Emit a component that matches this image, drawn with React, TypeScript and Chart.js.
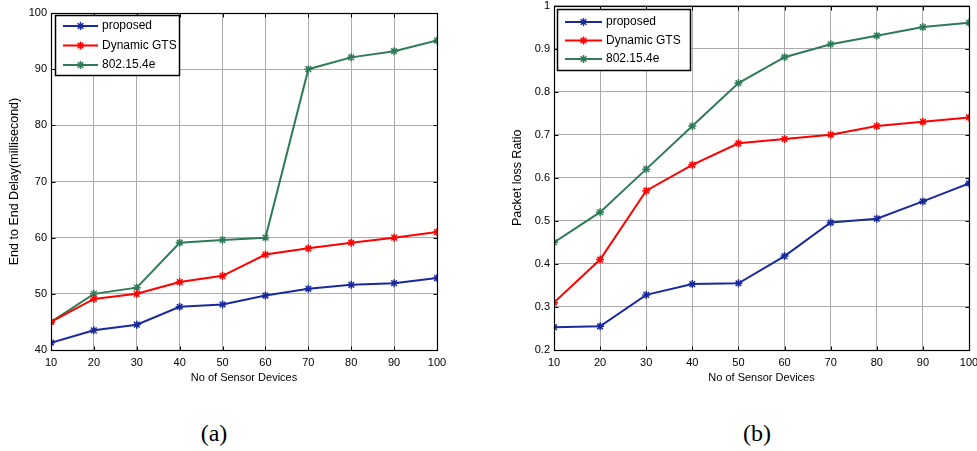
import React, { useEffect, useRef } from 'react';
import { Chart, registerables } from 'chart.js';

Chart.register(...registerables);

// ---------- data ----------
const devices = [10, 20, 30, 40, 50, 60, 70, 80, 90, 100];
const seriesLabels = ['proposed', 'Dynamic GTS', '802.15.4e'];

const delayProposed = [41.3, 43.5, 44.5, 47.7, 48.1, 49.7, 50.9, 51.6, 51.9, 52.8];
const delayDynamicGTS = [45.0, 49.1, 50.0, 52.1, 53.2, 57.0, 58.1, 59.1, 60.0, 61.0];
const delay802154e = [45.0, 50.0, 51.1, 59.1, 59.6, 60.0, 90.0, 92.1, 93.2, 95.1];

const lossProposed = [0.253, 0.255, 0.328, 0.353, 0.355, 0.418, 0.496, 0.505, 0.545, 0.587];
const lossDynamicGTS = [0.31, 0.41, 0.57, 0.63, 0.68, 0.69, 0.70, 0.72, 0.73, 0.74];
const loss802154e = [0.45, 0.52, 0.62, 0.72, 0.82, 0.88, 0.91, 0.93, 0.95, 0.96];

const xTitle = 'No of Sensor Devices';
const delayTitle = 'End to End Delay(millisecond)';
const lossTitle = 'Packet loss Ratio';

// ---------- styles ----------
const COLORS = ['#1a2a9c', '#ff0000', '#2f7a57'];
const FONT = "'Liberation Sans', Arial, Helvetica, sans-serif";

function drawStar(ctx: CanvasRenderingContext2D, x: number, y: number, r: number) {
  const d = r * 0.707;
  ctx.beginPath();
  ctx.moveTo(x - r, y); ctx.lineTo(x + r, y);
  ctx.moveTo(x, y - r); ctx.lineTo(x, y + r);
  ctx.moveTo(x - d, y - d); ctx.lineTo(x + d, y + d);
  ctx.moveTo(x - d, y + d); ctx.lineTo(x + d, y - d);
  ctx.stroke();
}

const matlabFrame = {
  id: 'matlabFrame',
  afterDraw(chart: any, _args: any, opts: any) {
    const { ctx, chartArea: a } = chart;
    const xs = chart.scales.x;
    const ys = chart.scales.y;
    ctx.save();
    ctx.strokeStyle = '#000';
    ctx.lineWidth = 1;
    const L = 4;
    const left = Math.round(a.left) + 0.5;
    const right = Math.round(a.right) + 0.5;
    const top = Math.round(a.top) + 0.5;
    const bottom = Math.round(a.bottom) + 0.5;
    ctx.beginPath();
    xs.ticks.forEach((t: any) => {
      const p = Math.round(xs.getPixelForValue(t.value)) + 0.5;
      ctx.moveTo(p, bottom); ctx.lineTo(p, bottom - L);
      ctx.moveTo(p, top); ctx.lineTo(p, top + L);
    });
    ys.ticks.forEach((t: any) => {
      const p = Math.round(ys.getPixelForValue(t.value)) + 0.5;
      ctx.moveTo(left, p); ctx.lineTo(left + L, p);
      ctx.moveTo(right, p); ctx.lineTo(right - L, p);
    });
    ctx.stroke();
    ctx.lineWidth = 1.2;
    ctx.strokeRect(left, top, right - left, bottom - top);

    // legend
    const lg = opts.legendBox;
    if (lg) {
      ctx.fillStyle = '#fff';
      ctx.fillRect(lg.x, lg.y, lg.w, lg.h);
      ctx.lineWidth = 1.5;
      ctx.strokeStyle = '#000';
      ctx.strokeRect(lg.x + 0.5, lg.y + 0.5, lg.w, lg.h);
      ctx.font = `12px ${FONT}`;
      ctx.textBaseline = 'middle';
      ctx.textAlign = 'left';
      chart.data.datasets.forEach((ds: any, i: number) => {
        const y = lg.y + lg.row0 + i * lg.rowGap;
        ctx.strokeStyle = ds.borderColor;
        ctx.lineWidth = 2;
        ctx.beginPath();
        ctx.moveTo(lg.x + lg.l1, y); ctx.lineTo(lg.x + lg.l2, y);
        ctx.stroke();
        ctx.lineWidth = 1.5;
        drawStar(ctx, lg.x + (lg.l1 + lg.l2) / 2, y, 4);
        ctx.fillStyle = '#000';
        ctx.fillText(ds.label, lg.x + lg.tx, y);
      });
    }
    ctx.restore();
  },
};

function makeDatasets(series: number[][]) {
  return series.map((vals, i) => ({
    label: seriesLabels[i],
    data: devices.map((d, j) => ({ x: d, y: vals[j] })),
    borderColor: COLORS[i],
    backgroundColor: COLORS[i],
    pointBorderColor: COLORS[i],
    pointBackgroundColor: COLORS[i],
    borderWidth: 2,
    pointStyle: 'star',
    pointRadius: 4,
    pointBorderWidth: 1.5,
    tension: 0,
    fill: false,
  }));
}

function makeConfig(p: any) {
  const tickFont = { family: FONT, size: 11 };
  const yTitleFont = { family: FONT, size: 12.5 };
  return {
    type: 'line',
    data: { datasets: makeDatasets(p.series) },
    plugins: [matlabFrame],
    options: {
      animation: false,
      responsive: false,
      maintainAspectRatio: false,
      events: [],
      layout: { padding: p.padding },
      plugins: {
        legend: { display: false },
        tooltip: { enabled: false },
        matlabFrame: { legendBox: p.legendBox },
      },
      scales: {
        x: {
          type: 'linear',
          position: 'bottom',
          min: 10,
          max: 100,
          afterFit: (s: any) => {
            s.height = 50;
            s.paddingLeft = 0; s.paddingRight = 0;
          },
          ticks: {
            stepSize: 10,
            font: tickFont,
            color: '#000',
            padding: 6,
            maxRotation: 0,
            autoSkip: false,
          },
          grid: { color: '#ababab', lineWidth: 1, drawTicks: false },
          border: { display: false },
          title: {
            display: true,
            text: xTitle,
            font: tickFont,
            color: '#000',
            padding: { top: 0, bottom: 15 },
          },
        },
        y: {
          type: 'linear',
          position: 'left',
          min: p.yMin,
          max: p.yMax,
          afterFit: (s: any) => {
            s.width = p.yWidth;
            s.paddingTop = 0; s.paddingBottom = 0;
          },
          ticks: {
            stepSize: p.yStep,
            font: tickFont,
            color: '#000',
            padding: 4,
            callback: (v: number) => String(Math.round(v * 10) / 10),
          },
          grid: { color: '#ababab', lineWidth: 1, drawTicks: false },
          border: { display: false },
          title: {
            display: true,
            text: p.yTitle,
            font: yTitleFont,
            color: '#000',
            padding: { top: p.yTitlePad, bottom: 0 },
          },
        },
      },
    },
  };
}

function LineChart(props: { config: any; width: number; height: number; style: any }) {
  const ref = useRef<HTMLCanvasElement | null>(null);
  useEffect(() => {
    if (!ref.current) return;
    const chart = new Chart(ref.current, props.config);
    return () => chart.destroy();
  }, []);
  return <canvas ref={ref} width={props.width} height={props.height} style={props.style} />;
}

const configA = makeConfig({
  series: [delayProposed, delayDynamicGTS, delay802154e],
  yMin: 40, yMax: 100, yStep: 10,
  yTitle: delayTitle,
  yWidth: 51,
  yTitlePad: 7,
  padding: { left: 0, right: 33, top: 13, bottom: 0 },
  legendBox: { x: 55, y: 15, w: 124, h: 60, l1: 8, l2: 43, tx: 47, row0: 11, rowGap: 19.5 },
});

const configB = makeConfig({
  series: [lossProposed, lossDynamicGTS, loss802154e],
  yMin: 0.2, yMax: 1, yStep: 0.1,
  yTitle: lossTitle,
  yWidth: 64,
  yTitlePad: 20,
  padding: { left: 0, right: 8, top: 5, bottom: 0 },
  legendBox: { x: 67, y: 9, w: 133, h: 61, l1: 8, l2: 45, tx: 49, row0: 13, rowGap: 18.5 },
});

export default function App() {
  useEffect(() => {
    document.body.style.margin = '0';
    document.body.style.background = '#fff';
  }, []);
  const caption = {
    position: 'absolute' as const,
    width: 100,
    textAlign: 'center' as const,
    fontFamily: "'Liberation Serif', 'Times New Roman', serif",
    fontSize: 24,
    lineHeight: '28px',
    top: 419,
    color: '#000',
  };
  return (
    <div style={{ position: 'relative', width: 977, height: 451, background: '#fff', overflow: 'hidden' }}>
      <LineChart config={configA} width={470} height={400} style={{ position: 'absolute', left: 0, top: 0 }} />
      <LineChart config={configB} width={487} height={400} style={{ position: 'absolute', left: 490, top: 0 }} />
      <div style={{ ...caption, left: 214 - 50 }}>(a)</div>
      <div style={{ ...caption, left: 757 - 50 }}>(b)</div>
    </div>
  );
}
